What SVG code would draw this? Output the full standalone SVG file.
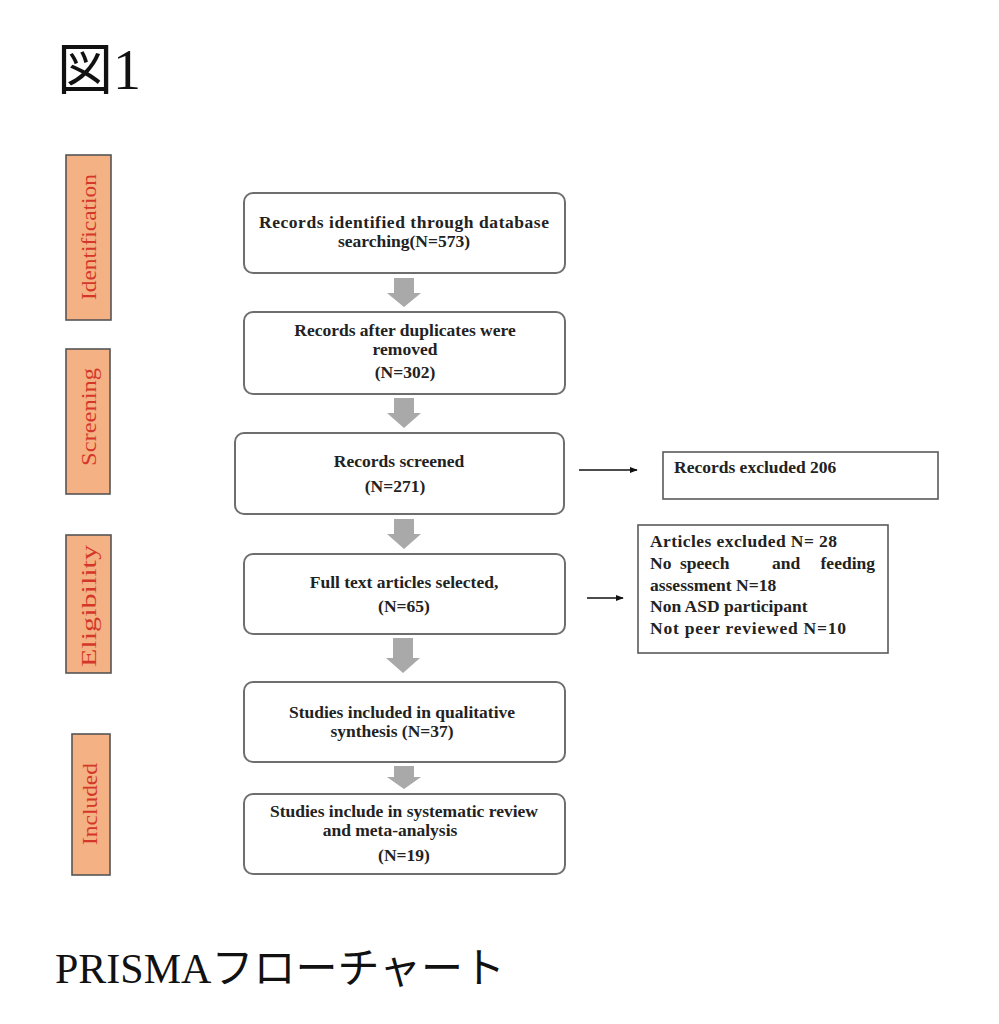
<svg xmlns="http://www.w3.org/2000/svg" width="999" height="1024" viewBox="0 0 999 1024">
<style>
.bg{fill:#ffffff}
.box{fill:#ffffff;stroke:#6e6e6e;stroke-width:2}
.sbox{fill:#ffffff;stroke:#5a5a5a;stroke-width:1.6}
.stage{fill:#f4b183;stroke:#555555;stroke-width:1.6}
.stxt{font-family:"Liberation Serif","DejaVu Serif",serif;font-size:21px;fill:#d4372a;text-anchor:middle}
.t{font-family:"Liberation Serif","DejaVu Serif",serif;font-size:17.5px;font-weight:bold;fill:#222222;text-anchor:middle}
.tl{font-family:"Liberation Serif","DejaVu Serif",serif;font-size:17.5px;font-weight:bold;fill:#222222}
.garrow{fill:#a9a9a9}
.line{stroke:#111111;stroke-width:1.4;fill:none}
.title{font-family:"Liberation Serif","Noto Sans CJK JP",serif;fill:#111111}
</style>
<defs>
<marker id="ah" viewBox="0 0 10 10" refX="9" refY="5" markerWidth="8" markerHeight="8" markerUnits="userSpaceOnUse" orient="auto">
<path d="M0,1 L10,5 L0,9 Z" fill="#111111"/>
</marker>
</defs>
<rect class="bg" x="0" y="0" width="999" height="1024"/>

<text class="title" x="57" y="89" font-size="56">図1</text>

<g id="stage-identification">
<rect class="stage" x="66" y="155" width="45" height="165"/>
<text class="stxt" transform="translate(96,237) rotate(-90)" textLength="126" lengthAdjust="spacingAndGlyphs">Identification</text>
</g>
<g id="stage-screening">
<rect class="stage" x="66" y="349" width="44" height="145"/>
<text class="stxt" transform="translate(96,417) rotate(-90)" textLength="98" lengthAdjust="spacingAndGlyphs">Screening</text>
</g>
<g id="stage-eligibility">
<rect class="stage" x="66" y="535" width="45" height="138"/>
<text class="stxt" transform="translate(96,606) rotate(-90)" textLength="122" lengthAdjust="spacingAndGlyphs">Eligibility</text>
</g>
<g id="stage-included">
<rect class="stage" x="72" y="734" width="38" height="141"/>
<text class="stxt" transform="translate(97,804) rotate(-90)" textLength="82" lengthAdjust="spacingAndGlyphs">Included</text>
</g>

<g id="n1">
<rect class="box" x="244" y="193" width="321" height="80" rx="9"/>
<text class="t" x="404" y="228" textLength="290" lengthAdjust="spacing">Records identified  through  database</text>
<text class="t" x="404" y="247">searching(N=573)</text>
</g>
<g id="n2">
<rect class="box" x="244" y="312" width="321" height="82" rx="9"/>
<text class="t" x="405" y="336">Records after duplicates were</text>
<text class="t" x="405" y="355">removed</text>
<text class="t" x="405" y="378">(N=302)</text>
</g>
<g id="n3">
<rect class="box" x="235" y="433" width="329" height="81" rx="9"/>
<text class="t" x="399" y="467">Records screened</text>
<text class="t" x="395" y="492">(N=271)</text>
</g>
<g id="n4">
<rect class="box" x="244" y="554" width="321" height="80" rx="9"/>
<text class="t" x="404" y="588">Full text articles selected,</text>
<text class="t" x="404" y="612">(N=65)</text>
</g>
<g id="n5">
<rect class="box" x="244" y="682" width="321" height="80" rx="9"/>
<text class="t" x="402" y="718">Studies included in qualitative</text>
<text class="t" x="392" y="737">synthesis (N=37)</text>
</g>
<g id="n6">
<rect class="box" x="244" y="794" width="321" height="80" rx="9"/>
<text class="t" x="404" y="817">Studies include in systematic review</text>
<text class="t" x="390" y="836">and meta-analysis</text>
<text class="t" x="404" y="861">(N=19)</text>
</g>

<g id="excl1">
<rect class="sbox" x="663" y="452" width="275" height="47"/>
<text class="tl" x="674" y="473">Records excluded 206</text>
</g>
<g id="excl2">
<rect class="sbox" x="638" y="525" width="250" height="128"/>
<text class="tl" x="650" y="547" textLength="187" lengthAdjust="spacing">Articles excluded  N= 28</text>
<text class="tl" x="650" y="569">No</text>
<text class="tl" x="680" y="569">speech</text>
<text class="tl" x="772" y="569">and</text>
<text class="tl" x="875" y="569" text-anchor="end">feeding</text>
<text class="tl" x="650" y="591">assessment N=18</text>
<text class="tl" x="650" y="612">Non ASD participant</text>
<text class="tl" x="650" y="634" textLength="196" lengthAdjust="spacing">Not peer reviewed  N=10</text>
</g>

<g id="connectors">
<path class="garrow" d="M394,278 H414 V293 H421 L404,307 L387,293 H394 Z"/>
<path class="garrow" d="M394,398 H414 V413 H421 L404,428 L387,413 H394 Z"/>
<path class="garrow" d="M394,519 H414 V534 H421 L404,549 L387,534 H394 Z"/>
<path class="garrow" d="M393,638 H413 V658 H420 L403,673 L386,658 H393 Z"/>
<path class="garrow" d="M394,766 H414 V777 H421 L404,789 L387,777 H394 Z"/>
<line class="line" x1="579" y1="470" x2="637" y2="470" marker-end="url(#ah)"/>
<line class="line" x1="587" y1="598" x2="623" y2="598" marker-end="url(#ah)"/>
</g>

<text class="title" x="55" y="983" font-size="42">PRISMAフローチャート</text>
</svg>
